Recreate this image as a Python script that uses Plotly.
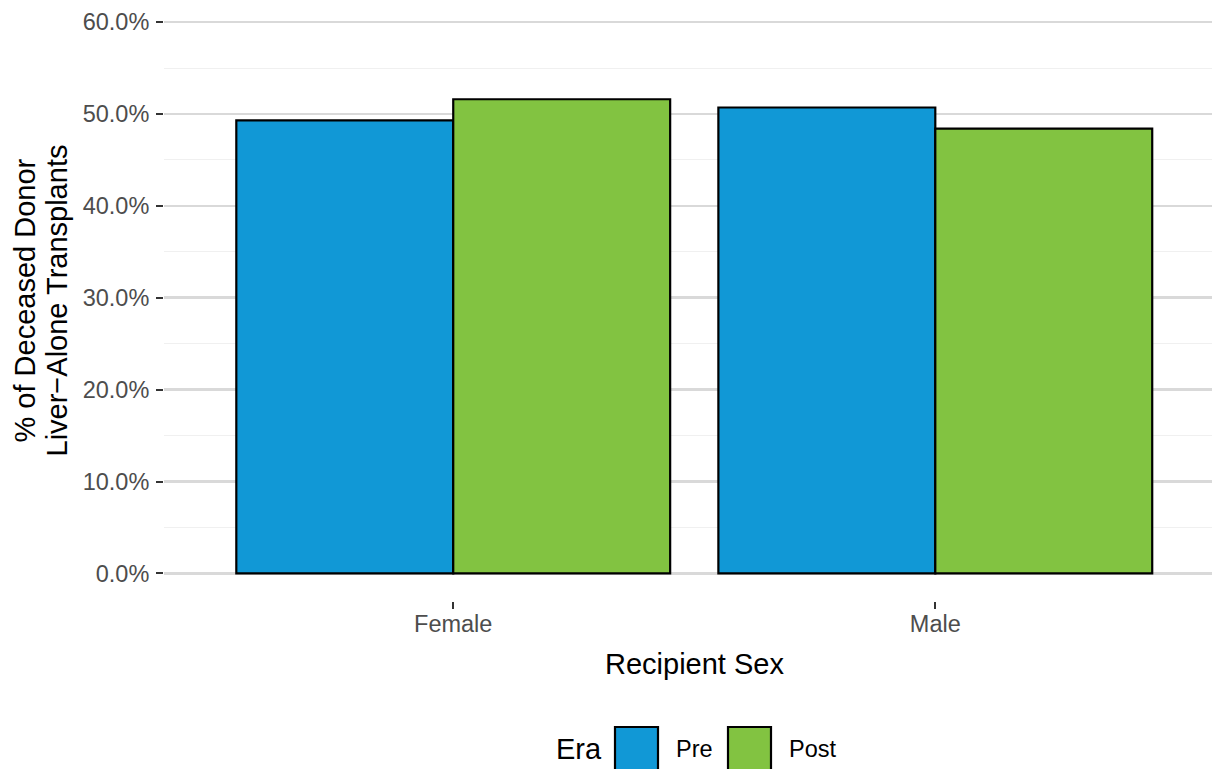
import plotly.graph_objects as go

# ---- data ----
sexes = ["Female", "Male"]
eras = ["Pre", "Post"]
pre_share = [0.493, 0.507]
post_share = [0.516, 0.484]
era_colors = ["#1198d6", "#82c341"]
y_tick_vals = [0.0, 0.1, 0.2, 0.3, 0.4, 0.5, 0.6]
y_minor_vals = [0.05, 0.15, 0.25, 0.35, 0.45, 0.55]
x_title = "Recipient Sex"
y_title_lines = ["% of Deceased Donor", "Liver\u2212Alone Transplants"]
legend_title = "Era"

# ---- geometry ----
W, H = 1212, 769
L, B = 164, 168
PW, PH = W - L, H - B


def px(x):
    return (x - L) / PW


def py(y):
    return (PH - y) / PH


FONT = "Liberation Sans, Arial, Helvetica, sans-serif"
TITLE_SIZE = 29
TEXT_SIZE = 23.5

fig = go.Figure()
for name, vals, col in zip(eras, [pre_share, post_share], era_colors):
    fig.add_trace(go.Bar(
        x=sexes, y=vals, name=name,
        marker=dict(color=col, line=dict(color="black", width=2.2)),
        showlegend=False,
    ))

annotations = [
    dict(text=y_title_lines[0], textangle=-90, xref="paper", yref="paper",
         x=px(24), y=0.5, xanchor="center", yanchor="middle", showarrow=False,
         font=dict(family=FONT, size=TITLE_SIZE, color="black")),
    dict(text=y_title_lines[1], textangle=-90, xref="paper", yref="paper",
         x=px(56), y=0.5, xanchor="center", yanchor="middle", showarrow=False,
         font=dict(family=FONT, size=TITLE_SIZE, color="black")),
    dict(text=x_title, xref="x", yref="paper", x=0.5, y=py(664),
         xanchor="center", yanchor="middle", showarrow=False,
         font=dict(family=FONT, size=TITLE_SIZE, color="black")),
    dict(text=legend_title, xref="paper", yref="paper", x=px(554), y=py(749),
         xanchor="left", yanchor="middle", showarrow=False,
         font=dict(family=FONT, size=TITLE_SIZE, color="black")),
]

shapes = []
key_left = [615, 728]
for i, (name, col) in enumerate(zip(eras, era_colors)):
    x0 = key_left[i]
    shapes.append(dict(type="rect", xref="paper", yref="paper",
                       x0=px(x0), x1=px(x0 + 43), y0=py(727), y1=py(770),
                       fillcolor=col, line=dict(color="black", width=2.2)))
    annotations.append(dict(text=name, xref="paper", yref="paper",
                            x=px(x0 + 59), y=py(749), xanchor="left", yanchor="middle",
                            showarrow=False,
                            font=dict(family=FONT, size=TEXT_SIZE, color="black")))

fig.update_layout(
    width=W, height=H, autosize=False,
    margin=dict(l=L, r=0, t=0, b=B, pad=0),
    plot_bgcolor="white", paper_bgcolor="white",
    barmode="group", bargap=0.1, bargroupgap=0,
    font=dict(family=FONT),
    annotations=annotations, shapes=shapes,
    showlegend=False,
    xaxis=dict(type="category", range=[-0.6, 1.574], showgrid=False, zeroline=False,
               showline=False, ticks="outside", ticklen=7, tickwidth=2,
               tickcolor="#333333", ticklabelstandoff=-5,
               tickfont=dict(family=FONT, size=TEXT_SIZE, color="#4d4d4d")),
    yaxis=dict(range=[-0.03, 0.624], tickvals=y_tick_vals, tickformat=".1%",
               showgrid=True, gridcolor="#d9d9d9", gridwidth=2.5, zeroline=False,
               showline=False, ticks="outside", ticklen=7, tickwidth=2,
               tickcolor="#333333", ticklabelstandoff=2,
               tickfont=dict(family=FONT, size=TEXT_SIZE, color="#4d4d4d"),
               minor=dict(tickvals=y_minor_vals, showgrid=True, gridcolor="#f0f0f0",
                          gridwidth=1, ticks="")),
)

fig.write_html(
    "out.html",
    config={"displayModeBar": False, "staticPlot": True},
    post_script="document.body.style.margin='0';document.body.style.overflow='hidden';",
)
